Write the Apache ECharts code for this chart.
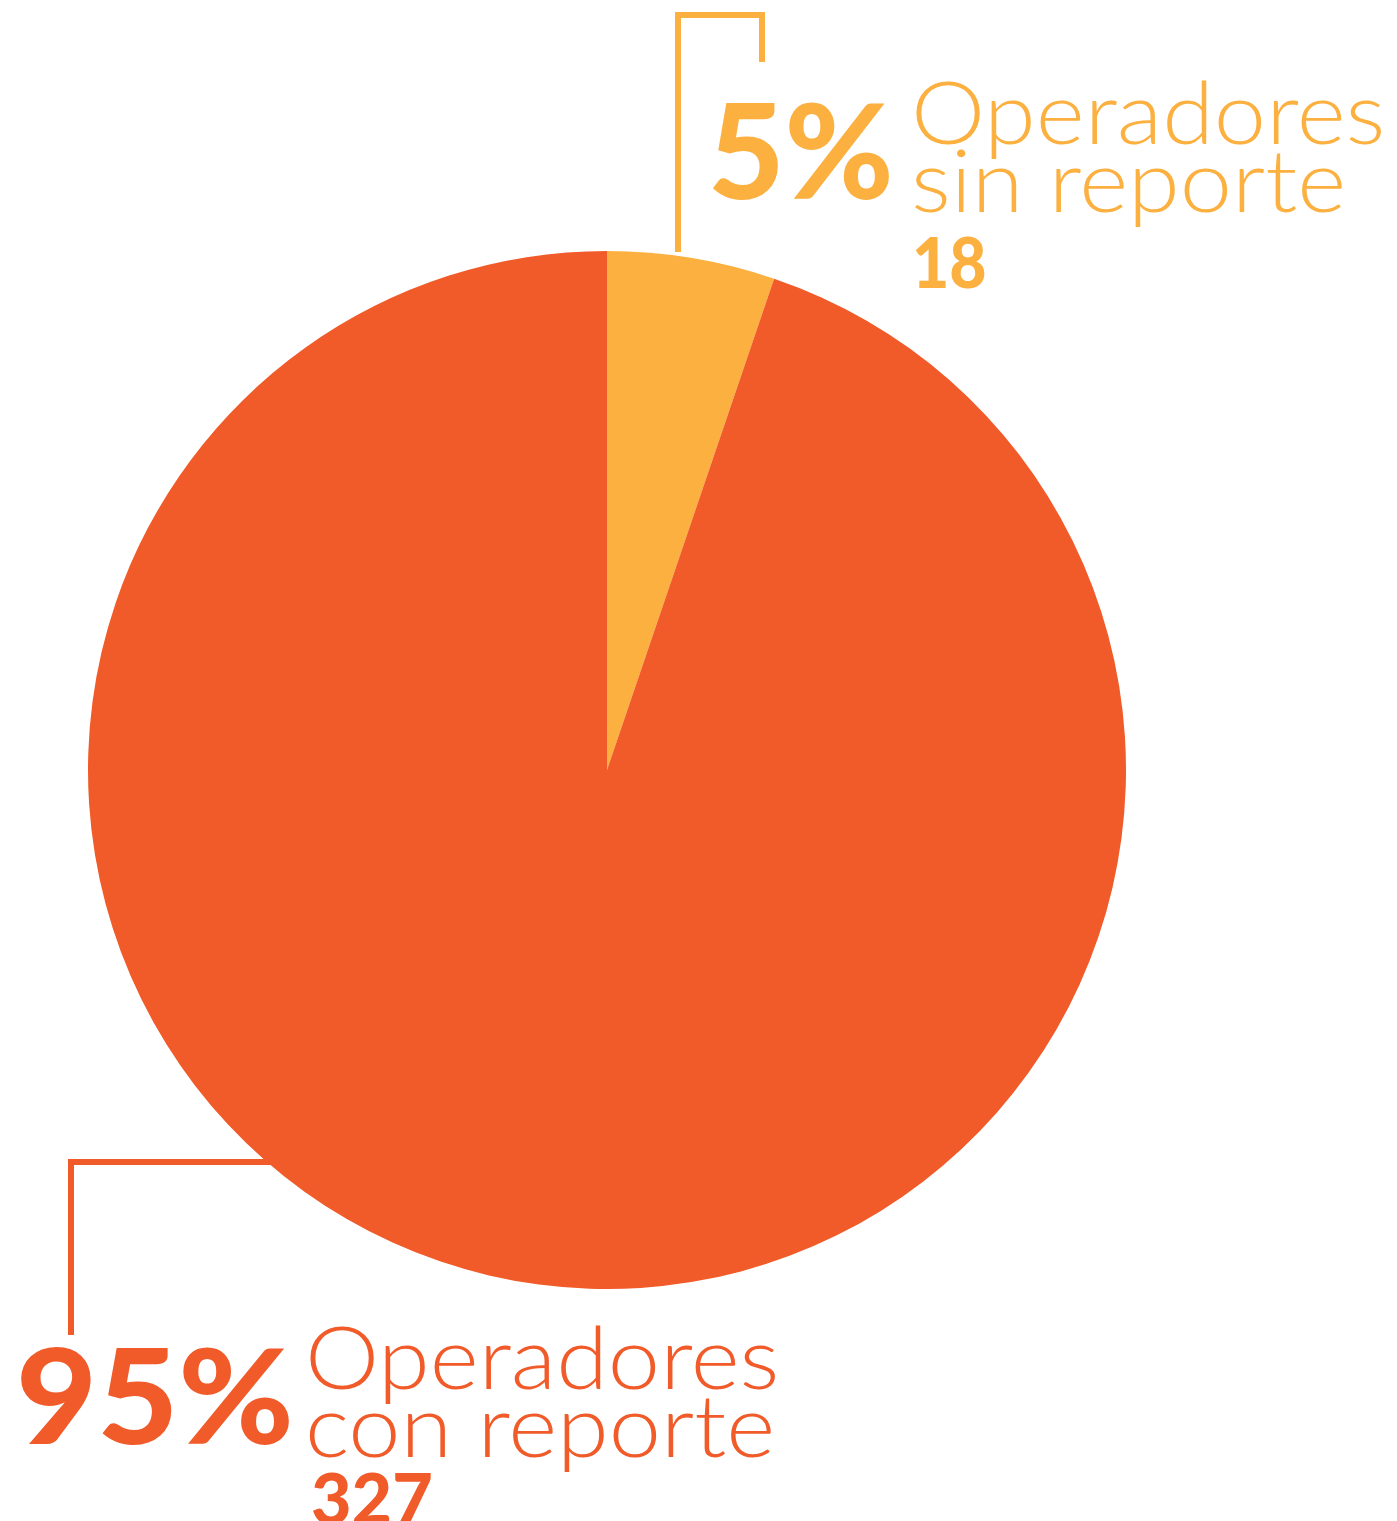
<!DOCTYPE html>
<html><head><meta charset="utf-8">
<script src="https://cdn.jsdelivr.net/npm/echarts@6/dist/echarts.min.js"></script>
<style>html,body{margin:0;padding:0;background:#fff}#c{width:1397px;height:1521px}</style>
</head><body><div id="c"></div>
<script>
const categories = ['Operadores sin reporte', 'Operadores con reporte'];
const values = [18, 327];
const percentLabels = ['5%', '95%'];
const colors = ['#FBB040', '#F15A29'];

const chart = echarts.init(document.getElementById('c'));
function txt(x, y, s, size, weight, color, sx) {
  return {type:'text', x:x, y:y, scaleX: sx||1, style:{text:s, font: weight+' '+size+'px Lato', fill:color, verticalAlign:'top', align:'left'}};
}
chart.setOption({
  animation:false,
  series:[{
    type:'pie', center:[607,770], radius:519, startAngle:90, clockwise:true,
    label:{show:false}, labelLine:{show:false}, silent:true,
    data: categories.map((c,i)=>({name:c, value:values[i], itemStyle:{color:colors[i]}}))
  }],
  graphic:[
    {type:'polyline', shape:{points:[[678,252],[678,15],[762,15],[762,62]]}, style:{stroke:colors[0], lineWidth:6, fill:null}},
    {type:'polyline', shape:{points:[[272,1162],[71,1162],[71,1335]]}, style:{stroke:colors[1], lineWidth:6, fill:null}},
    txt(708,90,percentLabels[0],132,900,colors[0],1.0),
    txt(911,73,'Operadores',86,300,colors[0],1.09),
    txt(911,141,'sin reporte',86,300,colors[0],1.09),
    txt(912,230,String(values[0]),70,900,colors[0],0.92),
    txt(16,1335,percentLabels[1],132,900,colors[1],1.06),
    txt(305,1318,'Operadores',86,300,colors[1],1.09),
    txt(305,1386,'con reporte',86,300,colors[1],1.09),
    txt(311,1466,String(values[1]),70,900,colors[1],1.0)
  ]
});
</script></body></html>
